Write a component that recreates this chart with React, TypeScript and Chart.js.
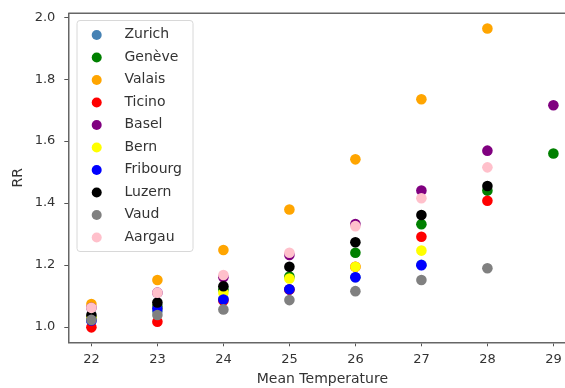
import React, { useEffect, useRef } from "react";
import { Chart, registerables } from "chart.js";

Chart.register(...registerables);

const temps = [22, 23, 24, 25, 26, 27, 28, 29];

const cantons = ["Zurich", "Genève", "Valais", "Ticino", "Basel", "Bern", "Fribourg", "Luzern", "Vaud", "Aargau"];
const colors = ["#4682b4", "#008000", "#ffa500", "#ff0000", "#800080", "#ffff00", "#0000ff", "#000000", "#808080", "#ffc0cb"];

// RR per canton, aligned with temps (null = no data)
const zurich = [1.02, 1.05, 1.09, 1.12, 1.16, 1.2, null, null];
const geneve = [1.03, 1.065, 1.12, 1.162, 1.239, 1.331, 1.44, 1.56];
const valais = [1.073, 1.151, 1.248, 1.379, 1.541, 1.735, 1.964, null];
const ticino = [0.998, 1.016, 1.085, 1.12, 1.194, 1.291, 1.407, null];
const basel = [1.061, 1.11, 1.16, 1.232, 1.332, 1.44, 1.569, 1.716];
const bern = [1.03, 1.06, 1.11, 1.156, 1.194, 1.246, null, null];
const fribourg = [1.02, 1.059, 1.088, 1.121, 1.16, 1.199, null, null];
const luzern = [1.038, 1.078, 1.131, 1.194, 1.273, 1.361, 1.455, null];
const vaud = [1.022, 1.038, 1.056, 1.086, 1.115, 1.151, 1.189, null];
const aargau = [1.061, 1.11, 1.167, 1.239, 1.325, 1.415, 1.515, null];

const series = [zurich, geneve, valais, ticino, basel, bern, fribourg, luzern, vaud, aargau];

const xTicks = [22, 23, 24, 25, 26, 27, 28, 29];
const yTicks = [1.0, 1.2, 1.4, 1.6, 1.8, 2.0];

const FONT = "'DejaVu Sans', sans-serif";

const frameAndLegend = {
  id: "frameAndLegend",
  afterDraw(chart: any) {
    const { ctx, chartArea } = chart;
    const yScale = chart.scales.y;
    ctx.save();
    // top spine
    ctx.strokeStyle = "#666";
    ctx.lineWidth = 1.5;
    ctx.beginPath();
    ctx.moveTo(chartArea.left, chartArea.top);
    ctx.lineTo(chartArea.right, chartArea.top);
    ctx.stroke();

    // y tick marks (short, outward)
    ctx.strokeStyle = "#555";
    ctx.lineWidth = 1;
    yTicks.forEach((v) => {
      const py = Math.round(yScale.getPixelForValue(v)) + 0.5;
      ctx.beginPath();
      ctx.moveTo(chartArea.left - 4, py);
      ctx.lineTo(chartArea.left, py);
      ctx.stroke();
    });

    // legend
    const x0 = 77, y0 = 20.5, w = 116, h = 231;
    const r = 3;
    ctx.beginPath();
    ctx.moveTo(x0 + r, y0);
    ctx.lineTo(x0 + w - r, y0);
    ctx.quadraticCurveTo(x0 + w, y0, x0 + w, y0 + r);
    ctx.lineTo(x0 + w, y0 + h - r);
    ctx.quadraticCurveTo(x0 + w, y0 + h, x0 + w - r, y0 + h);
    ctx.lineTo(x0 + r, y0 + h);
    ctx.quadraticCurveTo(x0, y0 + h, x0, y0 + h - r);
    ctx.lineTo(x0, y0 + r);
    ctx.quadraticCurveTo(x0, y0, x0 + r, y0);
    ctx.closePath();
    ctx.fillStyle = "rgba(255,255,255,0.8)";
    ctx.fill();
    ctx.strokeStyle = "#d8d8d8";
    ctx.lineWidth = 1;
    ctx.stroke();

    ctx.font = `14px ${FONT}`;
    ctx.textBaseline = "middle";
    ctx.textAlign = "left";
    cantons.forEach((name, i) => {
      const y = 35 + i * 22.5;
      ctx.beginPath();
      ctx.arc(96.7, y, 5, 0, Math.PI * 2);
      ctx.fillStyle = colors[i];
      ctx.fill();
      ctx.fillStyle = "#333";
      ctx.fillText(name, 124.5, y - 0.5);
    });
    ctx.restore();
  },
};

export default function App() {
  const ref = useRef<HTMLCanvasElement>(null);
  useEffect(() => {
    if (!ref.current) return;
    const datasets = cantons.map((name, i) => ({
      label: name,
      data: temps
        .map((t, j) => ({ x: t, y: series[i][j] }))
        .filter((p) => p.y !== null),
      backgroundColor: colors[i],
      borderColor: colors[i],
      borderWidth: 0,
      pointRadius: 5.3,
      pointHoverRadius: 5.3,
      order: cantons.length - i,
    }));
    const chart = new Chart(ref.current, {
      type: "scatter",
      data: { datasets },
      options: {
        responsive: false,
        animation: false,
        events: [],
        layout: { padding: { top: 13.3, right: 23.5, left: 0, bottom: 0 } },
        plugins: { legend: { display: false }, tooltip: { enabled: false } },
        scales: {
          x: {
            type: "linear",
            min: 21.65,
            max: 29.35,
            afterFit: (s: any) => { s.height = 45.7; },
            afterBuildTicks: (s: any) => { s.ticks = xTicks.map((v) => ({ value: v })); },
            ticks: {
              includeBounds: false,
              color: "#333",
              font: { family: FONT, size: 13 },
              padding: 6,
              maxRotation: 0,
              callback: (v: any) => String(v),
            },
            grid: { display: true, drawOnChartArea: false, drawTicks: true, tickLength: 4, color: "#555" },
            border: { display: true, color: "#666", width: 1.5 },
            title: {
              display: true,
              text: "Mean Temperature",
              color: "#333",
              font: { family: FONT, size: 14 },
              padding: { top: 0, bottom: 0.3 },
            },
          },
          y: {
            type: "linear",
            min: 0.9496,
            max: 2.013,
            afterFit: (s: any) => { s.width = 68.3; },
            afterBuildTicks: (s: any) => { s.ticks = yTicks.map((v) => ({ value: v })); },
            ticks: {
              includeBounds: false,
              color: "#333",
              font: { family: FONT, size: 13 },
              padding: 3,
              callback: (v: any) => Number(v).toFixed(1),
            },
            grid: { display: true, drawOnChartArea: false, drawTicks: true, tickLength: 10, color: "#555", tickColor: "rgba(0,0,0,0)" },
            border: { display: true, color: "#666", width: 1.5 },
            title: {
              display: true,
              text: "RR",
              color: "#333",
              font: { family: FONT, size: 14 },
              padding: { top: 10, bottom: 0 },
            },
          },
        },
      },
      plugins: [frameAndLegend],
    } as any);
    return () => chart.destroy();
  }, []);
  return (
    <div style={{ position: "fixed", left: 0, top: 0, width: 565, height: 388, overflow: "hidden", background: "#fff" }}>
      <canvas ref={ref} width={600} height={388} style={{ display: "block", width: 600, height: 388 }} />
    </div>
  );
}
